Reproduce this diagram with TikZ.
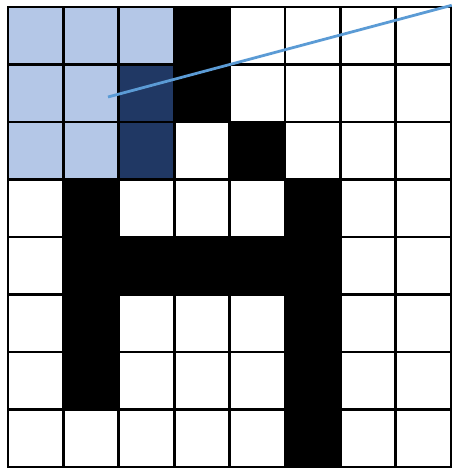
\documentclass[tikz,border=0pt]{standalone}
\usepackage{xcolor}
\definecolor{litblue}{HTML}{B4C7E7}
\definecolor{darkblue}{HTML}{203864}
\definecolor{raycol}{HTML}{5B9BD5}

\begin{document}
\begin{tikzpicture}[x=55.4pt,y=-57.5pt]
    \useasboundingbox (-0.1444,-0.1217) rectangle (8.0144,8.0348);
    % kernel window
    \foreach \c/\r in {0/0,1/0,2/0,0/1,1/1,0/2,1/2}{
      \fill[litblue] (\c,\r) rectangle ++(1,1);
    }
    \foreach \c/\r in {2/1,2/2}{
      \fill[darkblue] (\c,\r) rectangle ++(1,1);
    }
    % black pixels
    \foreach \c/\r in {3/0,3/1,4/2,1/3,5/3,1/4,2/4,3/4,4/4,5/4,1/5,5/5,1/6,5/6,5/7}{
      \fill[black] (\c,\r) rectangle ++(1,1);
    }
    \foreach \i in {0,...,8}{
      \draw[line width=2.8pt,line cap=rect] (\i,0) -- (\i,8);
      \draw[line width=2.8pt,line cap=rect] (0,\i) -- (8,\i);
    }
    \coordinate (start) at (1.805,1.565);
    \coordinate (stop) at (8.01,-0.03);
    \draw[raycol,line width=2.8pt] (start) -- (stop);
  \end{tikzpicture}
\end{document}
